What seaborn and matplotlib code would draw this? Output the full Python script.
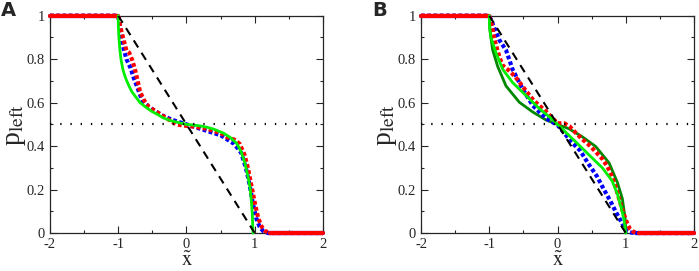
import numpy as np
import pandas as pd
import seaborn as sns
import matplotlib.pyplot as plt
from matplotlib.ticker import MultipleLocator

# reference lines
ref_x = [-1.0, 1.0]
ref_y = [1.0, 0.0]
half_x = [-2.0, 2.0]
half_y = [0.5, 0.5]

# panel A
a_red_x = [-2.0, -1.5, -1.0, -0.97, -0.93, -0.88, -0.84, -0.8, -0.76, -0.73, -0.68, -0.62, -0.55, -0.45, -0.35,
           -0.25, -0.15, -0.05, 0.1, 0.3, 0.5, 0.6, 0.7, 0.78, 0.85, 0.9, 0.95, 1.0, 1.05, 1.1, 1.15, 1.22, 1.6, 2.0]
a_red_y = [1.0, 1.0, 1.0, 0.95, 0.9, 0.84, 0.83, 0.8, 0.76, 0.72, 0.65, 0.61, 0.58, 0.56, 0.54,
           0.52, 0.5, 0.495, 0.49, 0.48, 0.46, 0.44, 0.43, 0.41, 0.36, 0.3, 0.22, 0.14, 0.07, 0.03, 0.01, 0.0, 0.0, 0.0]
a_blue_x = [-2.0, -1.5, -1.0, -0.97, -0.93, -0.88, -0.82, -0.78, -0.72, -0.65, -0.55, -0.45, -0.35, -0.2, -0.1,
            0.0, 0.1, 0.3, 0.5, 0.6, 0.7, 0.8, 0.87, 0.92, 0.97, 1.02, 1.07, 1.12, 1.2, 1.6, 2.0]
a_blue_y = [1.0, 1.0, 1.0, 0.93, 0.86, 0.8, 0.76, 0.72, 0.67, 0.61, 0.58, 0.56, 0.54, 0.52, 0.51,
            0.5, 0.49, 0.47, 0.45, 0.43, 0.41, 0.37, 0.3, 0.23, 0.14, 0.07, 0.03, 0.01, 0.0, 0.0, 0.0]
a_green_x = [-1.0, -0.998, -0.99, -0.975, -0.96, -0.93, -0.9, -0.875, -0.84, -0.8, -0.74, -0.68, -0.6, -0.51,
             -0.42, -0.34, -0.24, -0.14, 0.0, 0.1, 0.2, 0.3, 0.4, 0.54, 0.64, 0.735, 0.8, 0.857, 0.9, 0.93,
             0.95, 0.965, 0.975]
a_green_y = [1.0, 0.95, 0.9, 0.84, 0.8, 0.75, 0.72, 0.7, 0.675, 0.65, 0.625, 0.6, 0.58, 0.56,
             0.545, 0.53, 0.518, 0.51, 0.5, 0.497, 0.493, 0.487, 0.478, 0.46, 0.44, 0.413, 0.375, 0.32, 0.26, 0.21,
             0.15, 0.08, 0.0]

# panel B
b_red_x = [-2.0, -1.5, -1.0, -0.97, -0.93, -0.88, -0.84, -0.8, -0.72, -0.62, -0.5, -0.35, -0.17, 0.0,
           0.1, 0.18, 0.27, 0.37, 0.48, 0.58, 0.66, 0.73, 0.8, 0.85, 0.9, 0.95, 1.02, 1.06, 1.11, 1.2, 1.6, 2.0]
b_red_y = [1.0, 1.0, 1.0, 0.97, 0.9, 0.84, 0.8, 0.77, 0.75, 0.72, 0.67, 0.61, 0.56, 0.505,
           0.505, 0.49, 0.46, 0.43, 0.4, 0.367, 0.34, 0.306, 0.26, 0.213, 0.16, 0.106, 0.045, 0.02, 0.006, 0.0, 0.0, 0.0]
b_blue_x = [-2.0, -1.5, -1.0, -0.93, -0.85, -0.755, -0.657, -0.51, -0.363, -0.167, 0.0,
            0.1, 0.2, 0.33, 0.45, 0.58, 0.68, 0.77, 0.85, 0.92, 0.97, 1.02, 1.08, 1.15, 1.6, 2.0]
b_blue_y = [1.0, 1.0, 1.0, 0.947, 0.887, 0.842, 0.752, 0.662, 0.587, 0.527, 0.497,
            0.46, 0.42, 0.38, 0.32, 0.26, 0.2, 0.15, 0.1, 0.06, 0.03, 0.006, 0.002, 0.0, 0.0, 0.0]
b_lgreen_x = [-1.0, -0.995, -0.975, -0.9, -0.8, -0.657, -0.46, -0.265, -0.09, 0.0,
              0.09, 0.265, 0.46, 0.657, 0.8, 0.877, 0.93, 0.975, 1.0]
b_lgreen_y = [1.0, 0.95, 0.9, 0.827, 0.752, 0.692, 0.632, 0.572, 0.527, 0.5,
              0.473, 0.42, 0.36, 0.3, 0.24, 0.18, 0.12, 0.06, 0.0]
b_dgreen_x = [-1.0, -0.997, -0.99, -0.95, -0.877, -0.755, -0.56, -0.363, -0.167, 0.0,
              0.167, 0.363, 0.56, 0.755, 0.877, 0.95, 0.99, 0.997, 1.0]
b_dgreen_y = [1.0, 0.97, 0.932, 0.842, 0.767, 0.677, 0.602, 0.557, 0.52, 0.5,
              0.48, 0.443, 0.398, 0.323, 0.233, 0.158, 0.068, 0.03, 0.0]

RED = '#ff0000'
BLUE = '#0000ff'
LGREEN = '#00ee00'
DGREEN = '#008800'

sns.set_style('ticks')
plt.rcParams['font.family'] = ['Liberation Serif', 'DejaVu Serif']
plt.rcParams['mathtext.fontset'] = 'stix'


def draw(ax, line_sets, label):
    for xs, ys, color, kind in line_sets:
        df = pd.DataFrame({'x': xs, 'y': ys})
        if kind == 'dots':
            sns.lineplot(data=df, x='x', y='y', ax=ax, color=color, sort=False, estimator=None,
                         linewidth=3.0, linestyle=(0, (0.9, 0.6)), dash_capstyle='butt', clip_on=False)
            # plateaus look solid in the reference
            for level in (0.0, 1.0):
                flat = df[df['y'] == level]
                sns.lineplot(data=flat, x='x', y='y', ax=ax, color=color, sort=False, estimator=None,
                             linewidth=3.0, clip_on=False)
        else:
            sns.lineplot(data=df, x='x', y='y', ax=ax, color=color, sort=False, estimator=None,
                         linewidth=2.0, clip_on=False)
    sns.lineplot(x=ref_x, y=ref_y, ax=ax, color='black', linewidth=1.5, linestyle=(0, (4, 3)))
    sns.lineplot(x=half_x, y=half_y, ax=ax, color='black', linewidth=1.6, linestyle=(0, (0.6, 4)))
    ax.set_xlim(-2, 2)
    ax.set_ylim(0, 1)
    ax.xaxis.set_minor_locator(MultipleLocator(0.5))
    ax.yaxis.set_minor_locator(MultipleLocator(0.1))
    ax.set_xticks([-2, -1, 0, 1, 2])
    ax.set_xticklabels(['-2', '-1', '0', '1', '2'])
    ax.set_yticks([0, 0.2, 0.4, 0.6, 0.8, 1.0])
    ax.set_yticklabels(['0', '0.2', '0.4', '0.6', '0.8', '1'])
    ax.tick_params(which='both', direction='in', top=True, right=True, labelsize=10.5, width=0.8)
    ax.tick_params(axis='x', pad=3.5)
    ax.tick_params(axis='y', pad=3.5)
    ax.tick_params(which='major', length=5)
    ax.tick_params(which='minor', length=2.5)
    for s in ax.spines.values():
        s.set_linewidth(0.9)
        s.set_zorder(1)
    ax.set_xlabel(r'$\tilde{\mathrm{x}}$', fontsize=15, labelpad=0.5)
    ax.set_ylabel(r'p$_{\mathrm{left}}$', fontsize=20, labelpad=-1)
    ax.text(-0.18, 1.07, label, transform=ax.transAxes, fontsize=14, fontweight='bold',
            family='DejaVu Sans', ha='left', va='top')


fig = plt.figure(figsize=(6.99, 2.71), dpi=100)
ax1 = fig.add_axes([0.0715, 0.140, 0.3906, 0.802])
ax2 = fig.add_axes([0.6023, 0.140, 0.3906, 0.802])

draw(ax1, [(a_blue_x, a_blue_y, BLUE, 'dots'), (a_red_x, a_red_y, RED, 'dots'),
           (a_green_x, a_green_y, LGREEN, 'line')], 'A')
draw(ax2, [(b_dgreen_x, b_dgreen_y, DGREEN, 'line'), (b_blue_x, b_blue_y, BLUE, 'dots'),
           (b_red_x, b_red_y, RED, 'dots'), (b_lgreen_x, b_lgreen_y, LGREEN, 'line')], 'B')

fig.savefig('out.png', dpi=100)
